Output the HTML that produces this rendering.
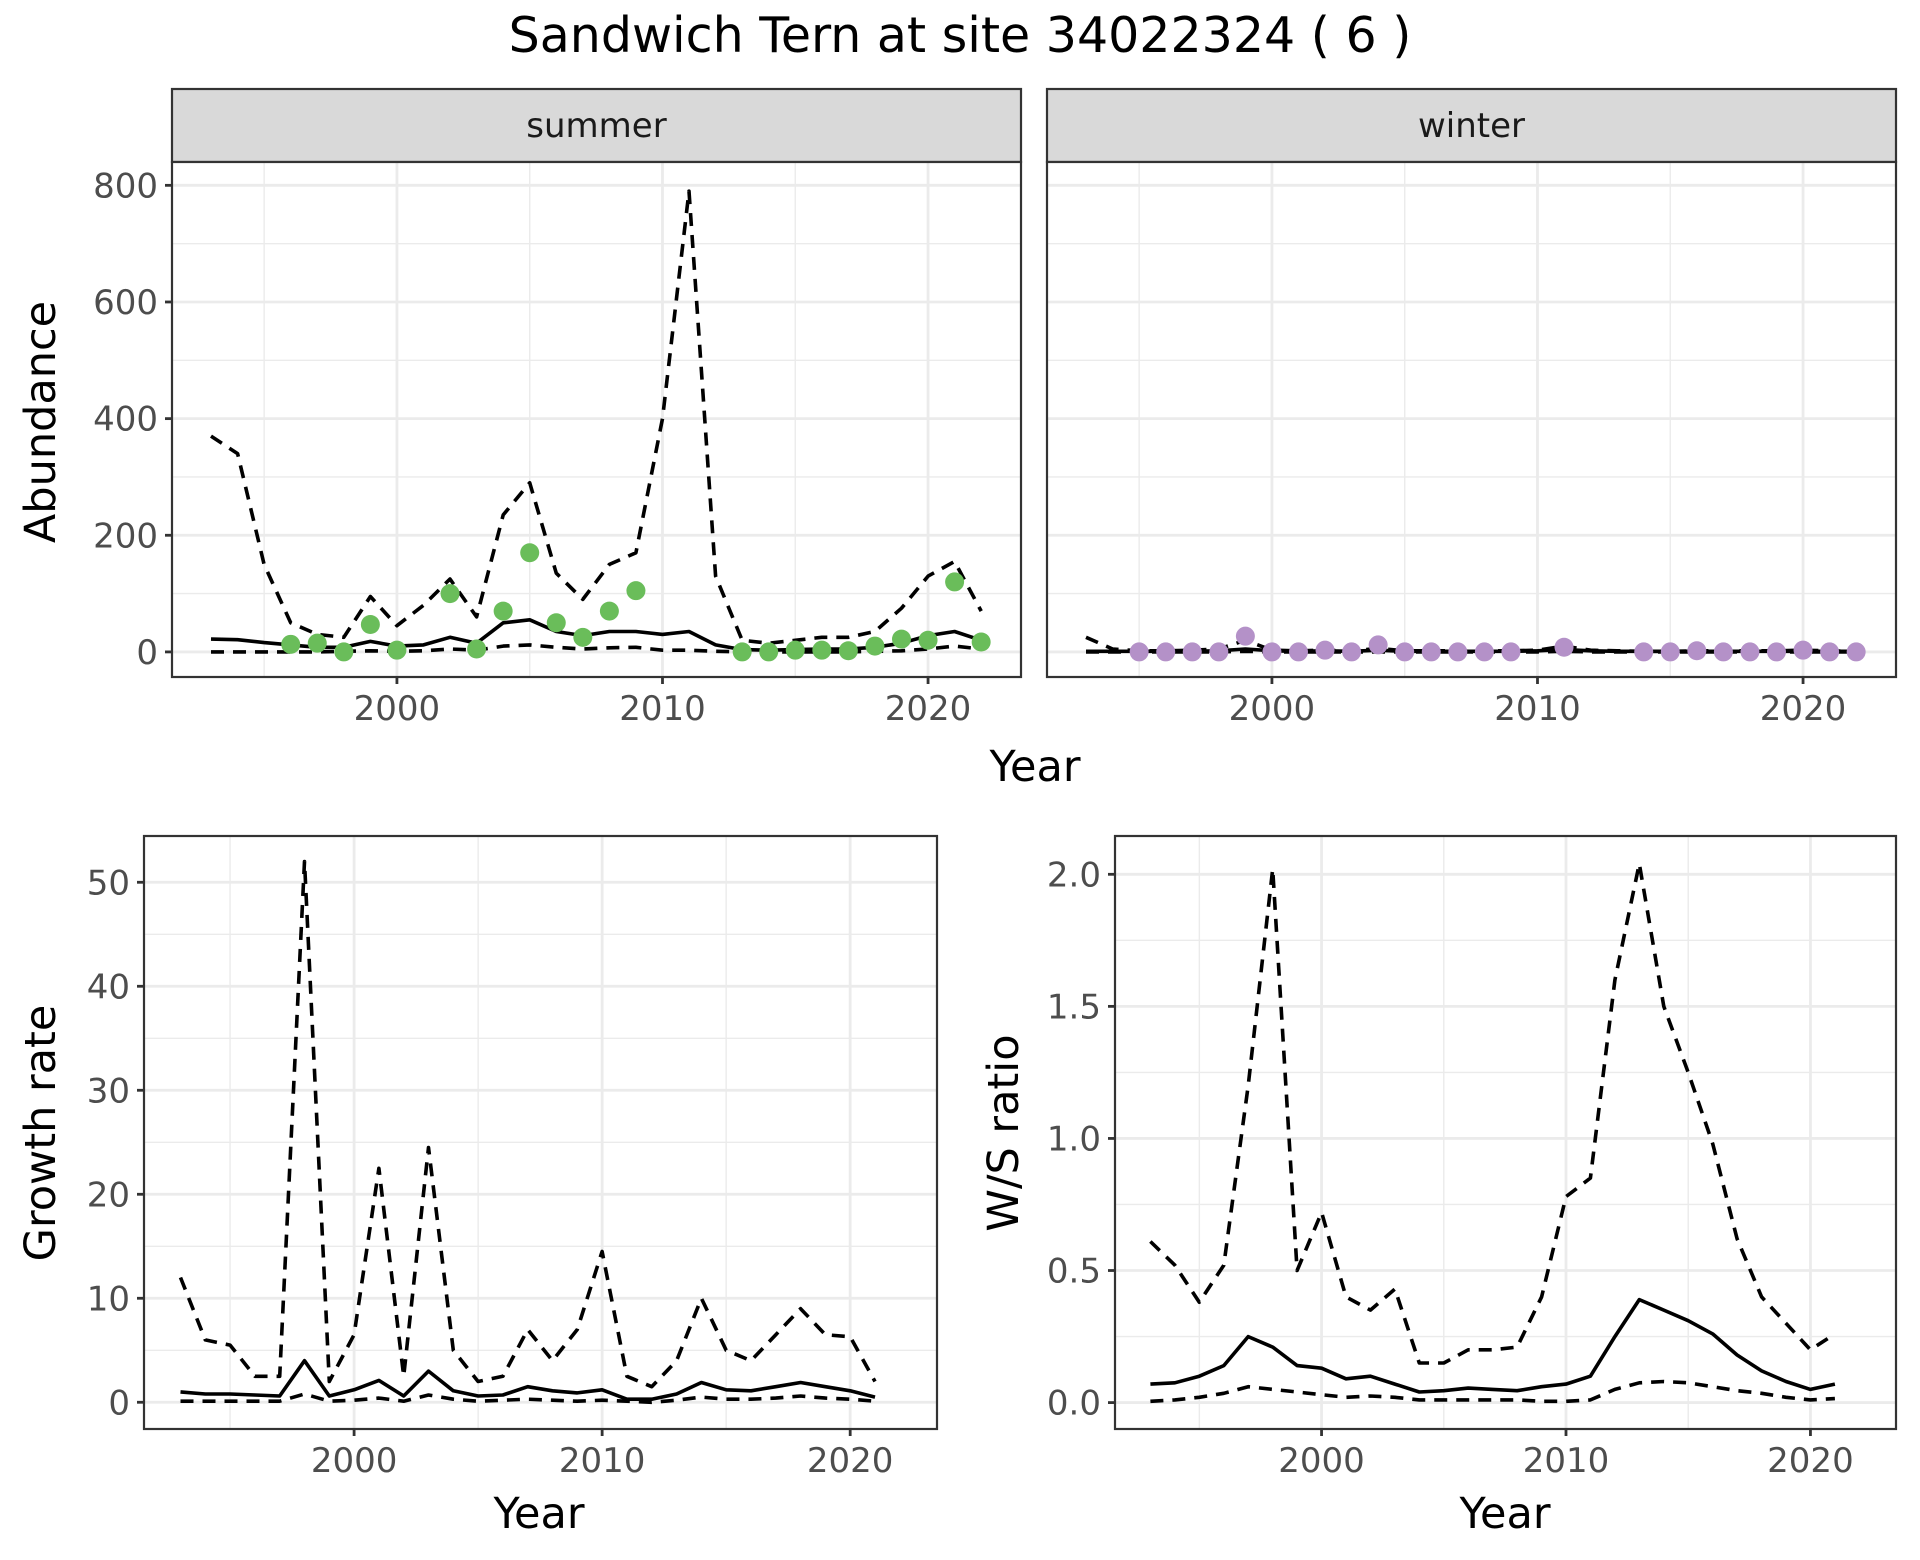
<!DOCTYPE html>
<html><head><meta charset="utf-8"><style>
html,body{margin:0;padding:0;background:#fff}
svg{display:block;font-family:"DejaVu Sans","Liberation Sans",sans-serif}
</style></head><body>
<svg id="chart" width="1920" height="1560" viewBox="0 0 1920 1560">
<text x="960" y="52" text-anchor="middle" font-size="49" fill="#000">Sandwich Tern at site 34022324 ( 6 )</text>
</svg>
<script>
// ---- data ----
const yearsA = [1993,1994,1995,1996,1997,1998,1999,2000,2001,2002,2003,2004,2005,2006,2007,2008,2009,2010,2011,2012,2013,2014,2015,2016,2017,2018,2019,2020,2021,2022];
const summerUpper = [370,340,150,50,30,25,95,45,80,125,60,235,290,135,90,150,170,400,790,130,20,15,20,25,25,35,75,130,155,70];
const summerMean = [22,21,16,12,8,8,18,10,12,25,15,50,55,35,28,35,35,30,35,12,4,3,4,5,5,8,15,28,35,20];
const summerLower = [0,0,0,0,0,1,2,1,2,5,3,10,12,8,5,7,8,3,3,1,0,0,0,0,0,1,2,5,10,5];
const summerPtYears = [1996,1997,1998,1999,2000,2002,2003,2004,2005,2006,2007,2008,2009,2013,2014,2015,2016,2017,2018,2019,2020,2021,2022];
const summerPtVals = [13,15,0,47,3,100,5,70,170,50,25,70,105,0,0,3,3,2,10,22,20,120,17];
const winterUpper = [25,5,2,2,3,5,20,3,2,3,2,6,2,2,2,2,2,3,10,3,2,1,1,2,2,2,2,3,2,1];
const winterMean = [1,1,1,1,1,2,5,2,1,2,1,3,1,1,1,1,1,2,4,2,1,1,1,1,1,1,1,1,1,1];
const winterLower = [0,0,0,0,0,0,1,0,0,0,0,0,0,0,0,0,0,0,1,0,0,0,0,0,0,0,0,0,0,0];
const winterPtYears = [1995,1996,1997,1998,1999,2000,2001,2002,2003,2004,2005,2006,2007,2008,2009,2011,2014,2015,2016,2017,2018,2019,2020,2021,2022];
const winterPtVals = [0,0,0,0,27,0,0,3,0,12,0,0,0,0,0,8,0,0,2,0,0,0,3,0,0];
const yearsB = [1993,1994,1995,1996,1997,1998,1999,2000,2001,2002,2003,2004,2005,2006,2007,2008,2009,2010,2011,2012,2013,2014,2015,2016,2017,2018,2019,2020,2021];
const growthUpper = [12,6,5.5,2.5,2.5,52,2,6.5,22.5,2.5,24.5,5,2,2.5,7,4,7,14.5,2.5,1.5,4,10,5,4,6.5,9,6.5,6.3,2];
const growthMean = [1,0.8,0.8,0.7,0.6,4,0.6,1.2,2.1,0.6,3,1.1,0.6,0.7,1.5,1.1,0.9,1.2,0.3,0.3,0.8,1.9,1.2,1.1,1.5,1.9,1.5,1.1,0.5];
const growthLower = [0.1,0.1,0.1,0.1,0.1,0.8,0.1,0.2,0.4,0.1,0.7,0.3,0.1,0.2,0.3,0.2,0.1,0.2,0.1,0,0.2,0.5,0.3,0.3,0.4,0.6,0.4,0.3,0.1];
const ratioUpper = [0.61,0.52,0.38,0.52,1.2,2.02,0.5,0.72,0.4,0.35,0.43,0.15,0.15,0.2,0.2,0.21,0.4,0.78,0.85,1.6,2.04,1.5,1.25,0.98,0.62,0.4,0.3,0.2,0.26];
const ratioMean = [0.07,0.075,0.1,0.14,0.25,0.21,0.14,0.13,0.09,0.1,0.07,0.04,0.045,0.055,0.05,0.045,0.06,0.07,0.1,0.25,0.39,0.35,0.31,0.26,0.18,0.12,0.08,0.05,0.07];
const ratioLower = [0.005,0.01,0.02,0.035,0.06,0.05,0.04,0.03,0.02,0.025,0.02,0.01,0.01,0.01,0.01,0.01,0.005,0.005,0.01,0.05,0.075,0.08,0.075,0.06,0.045,0.035,0.02,0.01,0.015];
const abundTicks = [0,200,400,600,800];
const growthTicks = [0,10,20,30,40,50];
const ratioTicks = [0,0.5,1.0,1.5,2.0];
const ratioTickLabels = ["0.0","0.5","1.0","1.5","2.0"];
const yearTicks = [2000,2010,2020];

const NS = "http://www.w3.org/2000/svg";
const svg = document.getElementById('chart');
function mk(tag, attrs, parent){const e=document.createElementNS(NS,tag);for(const k in attrs)e.setAttribute(k,attrs[k]);(parent||svg).appendChild(e);return e;}

function panel(name, box, xd, yd, yTicks, yLabels, yMinor, showY, showX){
  const g = mk('g',{});
  
  
  const sx = v => box.x + (v-xd[0])/(xd[1]-xd[0])*box.w;
  const sy = v => box.y + box.h - (v-yd[0])/(yd[1]-yd[0])*box.h;
  mk('rect',{x:box.x,y:box.y,width:box.w,height:box.h,fill:'#fff'},g);
  [1995,2005,2015].forEach(t=>{mk('line',{x1:sx(t),x2:sx(t),y1:box.y,y2:box.y+box.h,stroke:'#EBEBEB','stroke-width':1.4},g);});
  yMinor.forEach(t=>mk('line',{x1:box.x,x2:box.x+box.w,y1:sy(t),y2:sy(t),stroke:'#EBEBEB','stroke-width':1.4},g));
  yearTicks.forEach(t=>mk('line',{x1:sx(t),x2:sx(t),y1:box.y,y2:box.y+box.h,stroke:'#EBEBEB','stroke-width':2.8},g));
  yTicks.forEach(t=>mk('line',{x1:box.x,x2:box.x+box.w,y1:sy(t),y2:sy(t),stroke:'#EBEBEB','stroke-width':2.8},g));
  if(showY){
    yTicks.forEach((t,i)=>{
      mk('line',{x1:box.x-7,x2:box.x,y1:sy(t),y2:sy(t),stroke:'#333','stroke-width':2.8},g);
      const tx=mk('text',{x:box.x-14,y:sy(t)+12,'text-anchor':'end','font-size':34,fill:'#4D4D4D'},g);
      tx.textContent=yLabels[i];
      
      
    });
  }
  if(showX){
    yearTicks.forEach(t=>{
      mk('line',{x1:sx(t),x2:sx(t),y1:box.y+box.h,y2:box.y+box.h+7,stroke:'#333','stroke-width':2.8},g);
      const tx=mk('text',{x:sx(t),y:box.y+box.h+43,'text-anchor':'middle','font-size':34,fill:'#4D4D4D'},g);
      tx.textContent=t;
      
      
    });
  }
  return {g,sx,sy,box};
}
function line(p, xs, ys, dashed, name){
  const d = xs.map((x,i)=>(i?'L':'M')+p.sx(x).toFixed(1)+','+p.sy(ys[i]).toFixed(1)).join(' ');
  const a={d:d,fill:'none',stroke:'#000','stroke-width':3.6,'stroke-linejoin':'round'};
  if(dashed) a['stroke-dasharray']='13 9';
  const e=mk('path',a,p.g);
  
  
}
function points(p, xs, ys, color, name){
  xs.forEach((x,i)=>{
    const c=mk('circle',{cx:p.sx(x),cy:p.sy(ys[i]),r:9.5,fill:color},p.g);
    
    
  });
}
function border(p){
  mk('rect',{x:p.box.x,y:p.box.y,width:p.box.w,height:p.box.h,fill:'none',stroke:'#333','stroke-width':2.2},p.g);
}
function strip(box,label,name){
  const r=mk('rect',{x:box.x,y:89,width:box.w,height:73,fill:'#D9D9D9',stroke:'#333','stroke-width':2.2});
  
  
  const t=mk('text',{x:box.x+box.w/2,y:137,'text-anchor':'middle','font-size':34,fill:'#1A1A1A'});
  t.textContent=label;
  
  
}
function title(x,y,txt,rot,name){
  const t=mk('text',{x:x,y:y,'text-anchor':'middle','font-size':43,fill:'#000'});
  if(rot) t.setAttribute('transform','rotate(-90 '+x+' '+y+')');
  t.textContent=txt;
  
  
}

const xdTop=[1991.53,2023.5];
const ydTop=[-43,840];
const sBox={x:172,y:162,w:849,h:515};
const wBox={x:1047,y:162,w:849,h:515};
strip(sBox,'summer','summer');
strip(wBox,'winter','winter');
const ps=panel('summer',sBox,xdTop,ydTop,abundTicks,abundTicks.map(String),[100,300,500,700],true,true);
line(ps,yearsA,summerUpper,true,'summer-upper-ci-line');
line(ps,yearsA,summerLower,true,'summer-lower-ci-line');
line(ps,yearsA,summerMean,false,'summer-mean-line');
points(ps,summerPtYears,summerPtVals,'#6ABD5A','summer-count-point');
border(ps);
const pw=panel('winter',wBox,xdTop,ydTop,abundTicks,abundTicks.map(String),[100,300,500,700],false,true);
line(pw,yearsA,winterUpper,true,'winter-upper-ci-line');
line(pw,yearsA,winterLower,true,'winter-lower-ci-line');
line(pw,yearsA,winterMean,false,'winter-mean-line');
points(pw,winterPtYears,winterPtVals,'#B491C8','winter-count-point');
border(pw);
title(1035,781,'Year',false,'top-x-axis-title');
title(55,422,'Abundance',true,'abundance-y-axis-title');

const gBox={x:144,y:836,w:793,h:593};
const pg=panel('growth',gBox,[1991.53,2023.5],[-2.57,54.45],growthTicks,growthTicks.map(String),[5,15,25,35,45],true,true);
line(pg,yearsB,growthUpper,true,'growth-upper-ci-line');
line(pg,yearsB,growthLower,true,'growth-lower-ci-line');
line(pg,yearsB,growthMean,false,'growth-mean-line');
border(pg);
title(539,1528,'Year',false,'growth-x-axis-title');
title(55,1133,'Growth rate',true,'growth-y-axis-title');

const rBox={x:1115,y:836,w:781,h:593};
const pr=panel('ratio',rBox,[1991.55,2023.5],[-0.1,2.145],ratioTicks,ratioTickLabels,[0.25,0.75,1.25,1.75],true,true);
line(pr,yearsB,ratioUpper,true,'ratio-upper-ci-line');
line(pr,yearsB,ratioLower,true,'ratio-lower-ci-line');
line(pr,yearsB,ratioMean,false,'ratio-mean-line');
border(pr);
title(1505,1528,'Year',false,'ratio-x-axis-title');
title(1018,1133,'W/S ratio',true,'ratio-y-axis-title');
</script>
</body></html>
